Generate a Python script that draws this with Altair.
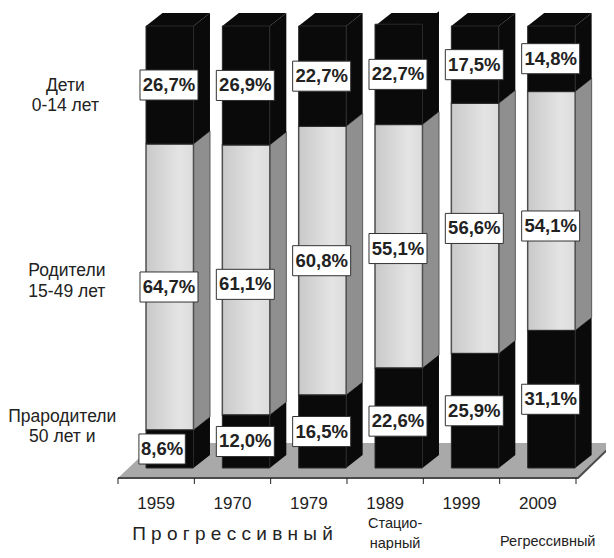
import altair as alt
import pandas as pd

years = ["1959", "1970", "1979", "1989", "1999", "2009"]
children = [26.7, 26.9, 22.7, 22.7, 17.5, 14.8]
parents = [64.7, 61.1, 60.8, 55.1, 56.6, 54.1]
elders = [8.6, 12.0, 16.5, 22.6, 25.9, 31.1]
group_rows = [("Дети", "0-14 лет", -0.69, 86.5), ("Родители", "15-49 лет", -0.67, 44.5), ("Прародители", "50 лет и", -0.73, 11.6)]
label_nudge = {"61,1%": (0, -1.0), "54,1%": (0, -3.4), "8,6%": (-0.09, 0), "55,1%": (0, -0.5), "22,6%": (0, -0.7)}

FONT = "Liberation Sans"
BAR_L, BAR_W, DX, DY = 0.367, 0.622, 0.216, 2.94
X_DOM = [-1.441, 6.393]
Y_DOM = [-18.55, 104.07]
FLOOR_LOW, FLOOR_HIGH, TICK_LOW = -2.26, 5.66, -3.62

fronts, sides, tops, labels = [], [], [], []
for i, yr in enumerate(years):
    xl = i + BAR_L
    xr = xl + BAR_W
    low = 0
    for seg, val in (("elders", elders[i]), ("parents", parents[i]), ("children", children[i])):
        hi = low + val
        tone = "light" if seg == "parents" else "dark"
        fronts.append(dict(x=xl, x2=xr, y=low, y2=hi, tone=tone))
        sid = f"{yr}{seg}"
        sides.append(dict(id=sid, tone=tone, x=xr, y=low, y2=hi))
        sides.append(dict(id=sid, tone=tone, x=xr + DX, y=low + DY, y2=hi + DY))
        txt = f"{val:.1f}%".replace(".", ",")
        nx, ny = label_nudge.get(txt, (0, 0))
        cx = (xl + xr) / 2 + nx - 0.01
        half = (len(txt) * 5.8) / 76.33
        cy = (low + hi) / 2 + ny
        labels.append(dict(txt=txt, cx=cx, x=cx - half, x2=cx + half, y=cy - 3.4, y2=cy + 3.4, cy=cy))
        low = hi
    tid = f"{yr}top"
    for px, a, b in ((xl, 100, 100), (xl + DX, 100, 100 + DY), (xr, 100, 100 + DY), (xr + DX, 100 + DY, 100 + DY)):
        tops.append(dict(id=tid, x=px, y=a, y2=b))

fronts = pd.DataFrame(fronts)
sides = pd.DataFrame(sides)
tops = pd.DataFrame(tops)
labels = pd.DataFrame(labels)

x_s = alt.Scale(domain=X_DOM, nice=False, zero=False)
y_s = alt.Scale(domain=Y_DOM, nice=False, zero=False)
X = alt.X("x:Q", scale=x_s, axis=None)
Y = alt.Y("y:Q", scale=y_s, axis=None)

floor_df = pd.DataFrame(dict(x=[0, 0.485, 6.026, 6.498],
                             y=[FLOOR_LOW, FLOOR_LOW, FLOOR_LOW, FLOOR_HIGH],
                             y2=[FLOOR_LOW, FLOOR_HIGH, FLOOR_HIGH, FLOOR_HIGH]))
floor = alt.Chart(floor_df).mark_area(color="#a9a9a9", interpolate="linear", clip=True).encode(X, Y, y2="y2:Q")

edge_df = pd.DataFrame(dict(x=[0, 6.026, 6.498], y=[FLOOR_LOW, FLOOR_LOW, FLOOR_HIGH]))
edge = alt.Chart(edge_df).mark_line(color="#4a4a4a", strokeWidth=2, clip=True).encode(X, Y, order="x:Q")

tick_df = pd.DataFrame(dict(x=list(range(7)), y=[FLOOR_LOW] * 7, y2=[TICK_LOW] * 7))
ticks = alt.Chart(tick_df).mark_rule(color="#222222", strokeWidth=1).encode(X, Y, y2="y2:Q")

year_df = pd.DataFrame(dict(x=[i + 0.5 for i in range(6)], y=[-8.2] * 6, t=years))
year_text = alt.Chart(year_df).mark_text(font=FONT, fontSize=17, color="#222222").encode(X, Y, text="t:N")

light_side = alt.Chart(sides[sides.tone == "light"]).mark_area(color="#8f8f8f", stroke="#5a5a5a", strokeWidth=1).encode(X, Y, y2="y2:Q", detail="id:N")
dark_side = alt.Chart(sides[sides.tone == "dark"]).mark_area(color="#0a0a0a").encode(X, Y, y2="y2:Q", detail="id:N")
top_face = alt.Chart(tops).mark_area(color="#0a0a0a").encode(X, Y, y2="y2:Q", detail="id:N")

grad = alt.Gradient(gradient="linear", x1=0, x2=1, y1=0, y2=0,
                    stops=[alt.GradientStop(color="#c9c9c9", offset=0),
                           alt.GradientStop(color="#e4e4e4", offset=0.7),
                           alt.GradientStop(color="#dcdcdc", offset=1)])
light_front = alt.Chart(fronts[fronts.tone == "light"]).mark_rect(fill=grad, stroke="#4f4f4f", strokeWidth=1.5).encode(X, x2="x2:Q", y=Y, y2="y2:Q")
dark_front = alt.Chart(fronts[fronts.tone == "dark"]).mark_rect(fill="#0a0a0a", stroke="#2a2a2a", strokeWidth=1).encode(X, x2="x2:Q", y=Y, y2="y2:Q")

boxes = alt.Chart(labels).mark_rect(fill="white", stroke="#333333", strokeWidth=1).encode(X, x2="x2:Q", y=Y, y2="y2:Q")
label_text = alt.Chart(labels).mark_text(font=FONT, fontSize=18.5, fontWeight="bold", color="#222222", baseline="middle").encode(
    alt.X("cx:Q", scale=x_s, axis=None), alt.Y("cy:Q", scale=y_s, axis=None), text="txt:N")

side_rows = []
for a, b, sx, sy in group_rows:
    side_rows.append(dict(x=sx, y=sy, t=a))
    side_rows.append(dict(x=sx, y=sy - 4.6, t=b))
side_text = alt.Chart(pd.DataFrame(side_rows)).mark_text(font=FONT, fontSize=17.5, color="#222222").encode(X, Y, text="t:N")

notes = pd.DataFrame([
    dict(x=1.5, y=-15.0, t="П р о г р е с с и в н ы й", s=19),
    dict(x=3.63, y=-12.7, t="Стацио-", s=14.5),
    dict(x=3.63, y=-17.2, t="нарный", s=14.5),
    dict(x=5.63, y=-16.8, t="Регрессивный", s=14.5),
])
note_text = alt.Chart(notes).mark_text(font=FONT, color="#222222").encode(X, Y, text="t:N", size=alt.Size("s:Q", scale=None, legend=None))

chart = alt.layer(floor, edge, ticks, light_side, dark_side, top_face, light_front, dark_front,
                  boxes, label_text, year_text, side_text, note_text).properties(
    width=598, height=542, padding=0, autosize=alt.AutoSizeParams(type="none")
).configure_view(stroke=None)

chart.save("out.html", embed_options={"renderer": "svg", "actions": False})
